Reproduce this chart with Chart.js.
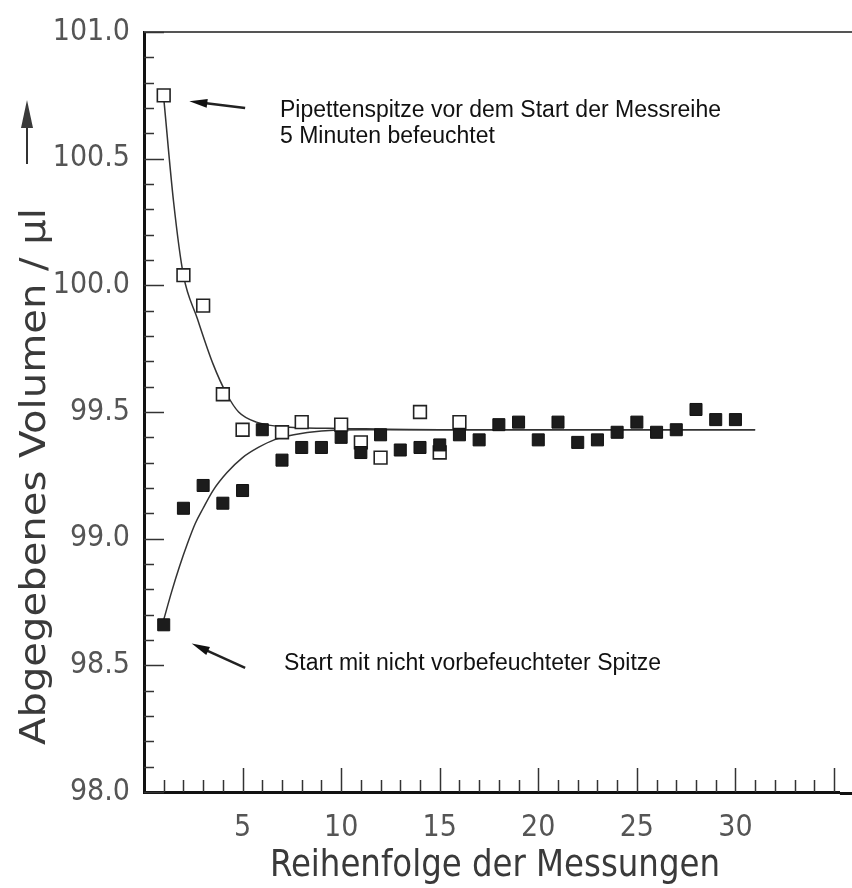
<!DOCTYPE html>
<html lang="de">
<head>
  <meta charset="UTF-8" />
  <title>Abgegebenes Volumen</title>
  <script src="https://cdn.jsdelivr.net/npm/chart.js"></script>
  <style>
    html, body { margin: 0; padding: 0; background: #fff; }
  </style>
</head>
<body>
  <canvas id="volChart" width="852" height="888"></canvas>

  <script>
    // Messreihe 1..30
    const messungen = [1, 2, 3, 4, 5, 6, 7, 8, 9, 10, 11, 12, 13, 14, 15,
                       16, 17, 18, 19, 20, 21, 22, 23, 24, 25, 26, 27, 28, 29, 30];
    // vorbefeuchtete Spitze (offene Quadrate)
    const befeuchtetX = [1, 2, 3, 4, 5, 7, 8, 10, 11, 12, 14, 15, 16];
    const befeuchtetY = [100.75, 100.04, 99.92, 99.57, 99.43, 99.42, 99.46, 99.45, 99.38, 99.32, 99.50, 99.34, 99.46];
    // nicht vorbefeuchtete Spitze (gefuellte Quadrate)
    const trockenY = [98.66, 99.12, 99.21, 99.14, 99.19, 99.43, 99.31, 99.36, 99.36, 99.40,
                      99.34, 99.41, 99.35, 99.36, 99.37, 99.41, 99.39, 99.45, 99.46, 99.39,
                      99.46, 99.38, 99.39, 99.42, 99.46, 99.42, 99.43, 99.51, 99.47, 99.47];
    // Ausgleichskurven
    const kurveBefX = [1.0, 1.5, 2.0, 2.7, 3.5, 4.2, 4.8, 5.7, 7.4, 10, 15, 20, 25, 31];
    const kurveBefY = [100.74, 100.33, 100.04, 99.87, 99.69, 99.57, 99.50, 99.46, 99.44, 99.435, 99.43, 99.43, 99.43, 99.43];
    const kurveTrX = [1.0, 1.4, 1.8, 2.2, 2.6, 3.0, 3.5, 4.2, 5.0, 5.8, 6.6, 7.6, 9, 11, 15, 20, 25, 31];
    const kurveTrY = [98.68, 98.79, 98.89, 98.98, 99.06, 99.12, 99.19, 99.26, 99.32, 99.36, 99.39, 99.41, 99.425, 99.43, 99.43, 99.43, 99.43, 99.43];
    // Achsenbeschriftung
    const xTickLabels = [5, 10, 15, 20, 25, 30];
    const yTickLabels = ['98.0', '98.5', '99.0', '99.5', '100.0', '100.5', '101.0'];

    const toPts = (xs, ys) => xs.map((x, i) => ({ x: x, y: ys[i] }));
    const axisFont = "'DejaVu Sans Condensed', 'DejaVu Sans', sans-serif";

    function pfeil(ctx, x1, y1, x2, y2, len, half) {
      const a = Math.atan2(y2 - y1, x2 - x1);
      ctx.beginPath();
      ctx.moveTo(x1, y1);
      ctx.lineTo(x2 - len * 0.6 * Math.cos(a), y2 - len * 0.6 * Math.sin(a));
      ctx.stroke();
      const bx = x2 - len * Math.cos(a), by = y2 - len * Math.sin(a);
      ctx.beginPath();
      ctx.moveTo(x2, y2);
      ctx.lineTo(bx - half * Math.sin(a), by + half * Math.cos(a));
      ctx.lineTo(bx + half * Math.sin(a), by - half * Math.cos(a));
      ctx.closePath();
      ctx.fill();
    }

    // Rahmen, innenliegende Striche, Titel und Hinweise
    const rahmen = {
      id: 'rahmen',
      afterDraw(chart) {
        const { ctx, chartArea, scales } = chart;
        const xs = scales.x, ys = scales.y;
        ctx.save();
        ctx.strokeStyle = '#555';
        ctx.lineWidth = 2;
        ctx.beginPath();
        ctx.moveTo(chartArea.left, chartArea.top);
        ctx.lineTo(chart.width, chartArea.top);
        ctx.stroke();

        ctx.strokeStyle = '#333';
        ctx.lineWidth = 1.5;
        ys.ticks.forEach(t => {
          const major = Math.abs(t.value * 2 - Math.round(t.value * 2)) < 1e-6;
          const py = Math.round(ys.getPixelForValue(t.value)) + 0.5;
          ctx.beginPath();
          ctx.moveTo(chartArea.left, py);
          ctx.lineTo(chartArea.left + (major ? 20 : 10), py);
          ctx.stroke();
        });
        xs.ticks.forEach(t => {
          if (t.value <= 0) return;
          const major = t.value % 5 === 0;
          const px = Math.round(xs.getPixelForValue(t.value)) + 0.5;
          ctx.beginPath();
          ctx.moveTo(px, chartArea.bottom);
          ctx.lineTo(px, chartArea.bottom - (major ? 24 : 12));
          ctx.stroke();
        });
        // x-Achse bis zum Bildrand
        ctx.strokeStyle = '#111';
        ctx.lineWidth = 3;
        ctx.beginPath();
        ctx.moveTo(chartArea.right, chartArea.bottom + 1.5);
        ctx.lineTo(chart.width, chartArea.bottom + 1.5);
        ctx.stroke();

        // y-Titel mit Pfeil
        ctx.fillStyle = '#3a3a3a';
        ctx.font = '36px ' + axisFont;
        ctx.textBaseline = 'alphabetic';
        ctx.textAlign = 'left';
        const yTitle = 'Abgegebenes Volumen / µl';
        ctx.save();
        ctx.translate(45, 745);
        ctx.rotate(-Math.PI / 2);
        ctx.scale(537 / ctx.measureText(yTitle).width, 1);
        ctx.fillText(yTitle, 0, 0);
        ctx.restore();
        ctx.strokeStyle = '#333';
        ctx.lineWidth = 2;
        pfeil(ctx, 27, 164, 27, 100, 28, 6);

        // x-Titel
        ctx.font = '38px ' + axisFont;
        const xTitle = 'Reihenfolge der Messungen';
        ctx.save();
        ctx.translate(495, 876);
        ctx.textAlign = 'center';
        ctx.scale(450 / ctx.measureText(xTitle).width, 1);
        ctx.fillText(xTitle, 0, 0);
        ctx.restore();

        // Hinweise
        ctx.fillStyle = '#111';
        ctx.strokeStyle = '#222';
        ctx.font = "23px 'Liberation Sans', Arial, sans-serif";
        ctx.textBaseline = 'middle';
        ctx.textAlign = 'left';
        ctx.fillText('Pipettenspitze vor dem Start der Messreihe', xs.getPixelForValue(6.9), ys.getPixelForValue(100.69));
        ctx.fillText('5 Minuten befeuchtet', xs.getPixelForValue(6.9), ys.getPixelForValue(100.585));
        ctx.fillText('Start mit nicht vorbefeuchteter Spitze', xs.getPixelForValue(7.1), ys.getPixelForValue(98.505));
        ctx.lineWidth = 2.5;
        pfeil(ctx, xs.getPixelForValue(5.13), ys.getPixelForValue(100.70),
              xs.getPixelForValue(2.3), ys.getPixelForValue(100.727), 18, 4.5);
        pfeil(ctx, xs.getPixelForValue(5.13), ys.getPixelForValue(98.49),
              xs.getPixelForValue(2.42), ys.getPixelForValue(98.586), 18, 4.5);
        ctx.restore();
      }
    };

    const ctx = document.getElementById('volChart').getContext('2d');
    const volChart = new Chart(ctx, {
      type: 'scatter',
      data: {
        datasets: [
          {
            label: 'nicht vorbefeuchtet',
            data: toPts(messungen, trockenY),
            pointStyle: 'rect',
            pointRadius: 8.5,
            backgroundColor: '#1c1c1c',
            borderColor: '#111',
            borderWidth: 1,
            order: 0
          },
          {
            label: 'vorbefeuchtet',
            data: toPts(befeuchtetX, befeuchtetY),
            pointStyle: 'rect',
            pointRadius: 9,
            backgroundColor: '#fff',
            borderColor: '#222',
            borderWidth: 1.6,
            order: 1
          },
          {
            label: 'Kurve vorbefeuchtet',
            data: toPts(kurveBefX, kurveBefY),
            showLine: true,
            pointRadius: 0,
            borderColor: '#333',
            borderWidth: 1.5,
            cubicInterpolationMode: 'monotone',
            order: 2
          },
          {
            label: 'Kurve nicht vorbefeuchtet',
            data: toPts(kurveTrX, kurveTrY),
            showLine: true,
            pointRadius: 0,
            borderColor: '#333',
            borderWidth: 1.5,
            cubicInterpolationMode: 'monotone',
            order: 2
          }
        ]
      },
      options: {
        responsive: false,
        animation: false,
        devicePixelRatio: 1,
        layout: { autoPadding: false, padding: { top: 24, right: 0, left: 0, bottom: 0 } },
        plugins: {
          legend: { display: false },
          tooltip: { enabled: false }
        },
        scales: {
          x: {
            type: 'linear',
            min: 0,
            max: 35.3,
            afterFit: s => { s.height = 96; },
            grid: { drawOnChartArea: false, drawTicks: false },
            border: { width: 3, color: '#111' },
            ticks: {
              stepSize: 1,
              includeBounds: false,
              autoSkip: false,
              maxRotation: 0,
              padding: 18,
              color: '#555',
              font: { family: axisFont, size: 30 },
              callback: v => xTickLabels.includes(v) ? String(v) : ''
            }
          },
          y: {
            type: 'linear',
            min: 98,
            max: 101,
            afterFit: s => { s.width = 144; },
            grid: { drawOnChartArea: false, drawTicks: false },
            border: { width: 3, color: '#111' },
            ticks: {
              stepSize: 0.1,
              includeBounds: false,
              autoSkip: false,
              padding: 14,
              color: '#555',
              font: { family: axisFont, size: 30 },
              callback: v => {
                const s = v.toFixed(1);
                return yTickLabels.includes(s) && Math.abs(v * 2 - Math.round(v * 2)) < 1e-6 ? s : '';
              }
            }
          }
        }
      },
      plugins: [rahmen]
    });
  </script>
</body>
</html>
